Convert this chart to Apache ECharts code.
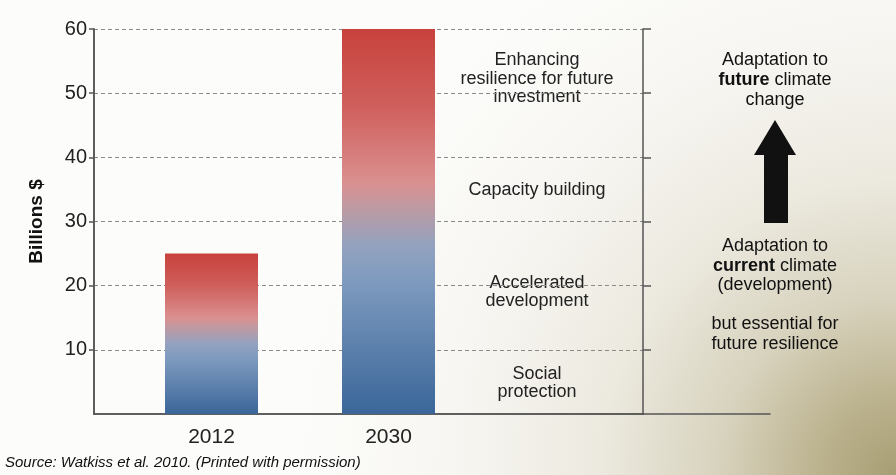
<!DOCTYPE html>
<html><head><meta charset="utf-8">
<script src="https://cdn.jsdelivr.net/npm/echarts@6/dist/echarts.min.js"></script>
<style>html,body{margin:0;padding:0;background:#fff}#c{width:896px;height:475px}</style>
</head><body><div id="c"></div>
<script>
const categories = ['2012', '2030'];
const values = [25, 60];
const yTicks = [10, 20, 30, 40, 50, 60];
const segmentLabels = ['Enhancing\nresilience for future\ninvestment', 'Capacity building', 'Accelerated\ndevelopment', 'Social\nprotection'];
const sourceText = 'Source: Watkiss et al. 2010. (Printed with permission)';

const chart = echarts.init(document.getElementById('c'), null, {renderer: 'canvas'});
const FONT = '"Liberation Sans", Arial, sans-serif';
const barGrad = new echarts.graphic.LinearGradient(0, 0, 0, 1, [
  {offset: 0, color: '#c8413c'},
  {offset: 0.2, color: '#cf5f5c'},
  {offset: 0.40, color: '#da9090'},
  {offset: 0.47, color: '#bb9aa4'},
  {offset: 0.56, color: '#94a2bf'},
  {offset: 0.65, color: '#7f9bbf'},
  {offset: 1, color: '#3a6699'}
]);
const lineStyle = {color: '#555', width: 1.5};
const hidden = {show: false};
const gridTop = 29, gridH = 385;
const txt = (x, y, text) => ({type: 'text', x, y, style: {text, fill: '#222', font: '18px ' + FONT, align: 'center', verticalAlign: 'middle', lineHeight: 18.5}});

chart.setOption({
  animation: false,
  graphic: [
    {type: 'rect', z: -100, silent: true, shape: {x: 0, y: 0, width: 896, height: 475},
     style: {fill: new echarts.graphic.RadialGradient(1, 1, 1.25, [
       {offset: 0, color: '#a89e74'},
       {offset: 0.13, color: '#bbb28e'},
       {offset: 0.3, color: '#d8d3be'},
       {offset: 0.5, color: '#ece9df'},
       {offset: 0.75, color: '#f7f6f2'},
       {offset: 1, color: '#fcfcfa'}
     ])}},
    txt(537, 79, segmentLabels[0]),
    txt(537, 190, segmentLabels[1]),
    txt(537, 292, segmentLabels[2]),
    txt(537, 383, segmentLabels[3]),
    {type: 'text', x: 775, y: 80, style: {
      text: 'Adaptation to\n{b|future} climate\nchange', fill: '#111', fontSize: 18, fontFamily: FONT,
      align: 'center', verticalAlign: 'middle', lineHeight: 20,
      rich: {b: {fontWeight: 'bold', fontSize: 18, fontFamily: FONT, fill: '#111', lineHeight: 20}}}},
    {type: 'polygon', shape: {points: [[775, 120], [796, 155], [788, 155], [788, 223], [764, 223], [764, 155], [754, 155]]}, style: {fill: '#111'}},
    {type: 'text', x: 775, y: 295, style: {
      text: 'Adaptation to\n{b|current} climate\n(development)\n\nbut essential for\nfuture resilience', fill: '#111', fontSize: 18, fontFamily: FONT,
      align: 'center', verticalAlign: 'middle', lineHeight: 19.6,
      rich: {b: {fontWeight: 'bold', fontSize: 18, fontFamily: FONT, fill: '#111', lineHeight: 19.6}}}},
    {type: 'text', x: 5, y: 463, style: {text: sourceText, fill: '#111', font: 'italic 15px "Liberation Sans", sans-serif', align: 'left', verticalAlign: 'middle'}}
  ],
  grid: [
    {left: 94, top: gridTop, width: 549, height: gridH},
    {left: 643, top: gridTop, width: 127, height: gridH},
    {left: 123, top: gridTop, width: 354, height: gridH}
  ],
  xAxis: [
    {gridIndex: 0, type: 'value', min: 0, max: 1, axisLine: {show: true, lineStyle}, axisTick: hidden, axisLabel: hidden, splitLine: hidden},
    {gridIndex: 0, type: 'value', position: 'top', min: 0, max: 1, axisLine: {show: true, lineStyle}, axisTick: hidden, axisLabel: hidden, splitLine: hidden},
    {gridIndex: 1, type: 'value', min: 0, max: 1, axisLine: {show: true, lineStyle}, axisTick: hidden, axisLabel: hidden, splitLine: hidden},
    {gridIndex: 2, type: 'category', data: categories, axisLine: hidden, axisTick: hidden,
     axisLabel: {color: '#222', fontSize: 21, fontFamily: FONT, margin: 13}}
  ],
  yAxis: [
    {gridIndex: 0, type: 'value', min: 0, max: 60, interval: 10,
     name: 'Billions $', nameLocation: 'middle', nameGap: 48, nameRotate: 90,
     nameTextStyle: {fontWeight: 'bold', fontSize: 19, color: '#111', fontFamily: FONT},
     axisLine: {show: true, lineStyle}, axisTick: {show: true, length: 5, lineStyle, customValues: yTicks},
     axisLabel: {color: '#222', fontSize: 20, fontFamily: FONT, margin: 7,
       formatter: v => yTicks.indexOf(v) >= 0 ? String(v) : ''},
     splitLine: {show: true, lineStyle: {color: '#8a8a8a', type: [4, 3], width: 1}}},
    {gridIndex: 0, type: 'value', position: 'right', min: 0, max: 60, interval: 10,
     axisLine: {show: true, lineStyle}, axisTick: {show: true, inside: true, length: 4, lineStyle, customValues: yTicks}, axisLabel: hidden, splitLine: hidden},
    {gridIndex: 1, type: 'value', position: 'left', min: 0, max: 60, interval: 10,
     axisLine: {show: true, lineStyle}, axisTick: {show: true, inside: true, length: 8, lineStyle, customValues: yTicks}, axisLabel: hidden, splitLine: hidden},
    {gridIndex: 2, type: 'value', min: 0, max: 60, show: false}
  ],
  series: [{
    type: 'bar', xAxisIndex: 3, yAxisIndex: 3, data: values, barWidth: 93, z: 3,
    itemStyle: {color: barGrad}
  }]
});
</script></body></html>
